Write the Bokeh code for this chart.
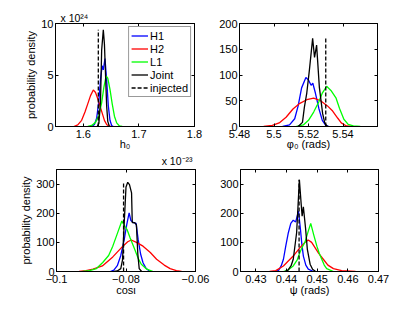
from bokeh.plotting import figure
from bokeh.models import (Range1d, FixedTicker, LinearAxis, Legend, LegendItem, Title,
                          CustomJSTickFormatter, Spacer)
from bokeh.layouts import column, row
from bokeh.embed import file_html
from bokeh.resources import INLINE

FONT = "Liberation Sans"
BLUE, RED, GREEN, BLACK = "#0000ff", "#ff0000", "#00ff00", "#000000"

# ---------------- panel 1: h0 (x in 1e-23, y in 1e24) ----------------
h0_x_H1 = [1.615, 1.620, 1.624, 1.628, 1.631, 1.634, 1.636, 1.639, 1.642, 1.645, 1.648, 1.651, 1.654]
h0_y_H1 = [0.0, 0.2, 0.8, 2.5, 4.6, 5.9, 5.5, 6.6, 4.5, 2.0, 0.6, 0.1, 0.0]
h0_x_H2 = [1.583, 1.590, 1.597, 1.603, 1.608, 1.613, 1.618, 1.622, 1.626, 1.630, 1.634, 1.638, 1.642, 1.646, 1.650]
h0_y_H2 = [0.0, 0.15, 0.6, 1.4, 2.2, 3.0, 3.55, 3.3, 2.7, 2.0, 1.3, 0.6, 0.2, 0.03, 0.0]
h0_x_L1 = [1.608, 1.615, 1.622, 1.628, 1.633, 1.637, 1.641, 1.644, 1.648, 1.652, 1.656, 1.660, 1.665, 1.670]
h0_y_L1 = [0.0, 0.1, 0.4, 1.1, 2.3, 3.8, 4.9, 4.7, 3.6, 2.2, 1.0, 0.35, 0.05, 0.0]
h0_x_J = [1.625, 1.628, 1.631, 1.633, 1.636, 1.638, 1.640, 1.642, 1.644, 1.647]
h0_y_J = [0.0, 0.3, 2.5, 7.4, 9.4, 8.0, 5.0, 2.0, 0.5, 0.0]
h0_inj = 1.627

# ---------------- panel 2: phi0 ----------------
phi_x_H1 = [5.505, 5.509, 5.512, 5.514, 5.516, 5.5185, 5.520, 5.5215, 5.5225, 5.524, 5.526, 5.528, 5.530, 5.532]
phi_y_H1 = [0, 3, 15, 40, 75, 95, 90, 80, 84, 65, 35, 12, 2, 0]
phi_x_H2 = [5.494, 5.499, 5.503, 5.507, 5.511, 5.515, 5.519, 5.523, 5.527, 5.531, 5.534, 5.537, 5.539, 5.542, 5.545]
phi_y_H2 = [0, 2, 7, 18, 34, 45, 52, 55, 50, 40, 30, 16, 7, 1, 0]
phi_x_L1 = [5.513, 5.517, 5.520, 5.523, 5.526, 5.528, 5.5305, 5.533, 5.536, 5.538, 5.5405, 5.543, 5.546, 5.550]
phi_y_L1 = [0, 3, 12, 28, 48, 65, 78, 70, 55, 35, 14, 4, 1, 0]
phi_x_J = [5.514, 5.5165, 5.5176, 5.519, 5.5205, 5.5224, 5.5235, 5.5247, 5.5263, 5.5282, 5.5295, 5.531]
phi_y_J = [0, 8, 37, 65, 109, 171, 134, 158, 76, 25, 6, 0]
phi_inj = 5.530

# ---------------- panel 3: cos(iota) ----------------
ci_x_H1 = [-0.0845, -0.0835, -0.0825, -0.0815, -0.0805, -0.0798, -0.0791, -0.0786, -0.0779, -0.0771, -0.0765, -0.0758, -0.0751, -0.0742, -0.0731]
ci_y_H1 = [0, 5, 20, 55, 110, 160, 201, 175, 168, 165, 110, 60, 30, 10, 0]
ci_x_H2 = [-0.0935, -0.0915, -0.0895, -0.0868, -0.0838, -0.0809, -0.0795, -0.0785, -0.0770, -0.0751, -0.0730, -0.0712, -0.0690, -0.0673, -0.0655, -0.0640]
ci_y_H2 = [0, 3, 8, 19, 50, 87, 102, 108, 100, 87, 65, 42, 22, 10, 3, 0]
ci_x_L1 = [-0.0925, -0.0905, -0.0885, -0.0867, -0.0850, -0.0838, -0.0825, -0.0812, -0.0803, -0.0797, -0.0788, -0.0775, -0.0765, -0.0756, -0.0740, -0.0722]
ci_y_L1 = [0, 3, 10, 31, 55, 87, 130, 173, 155, 144, 115, 76, 45, 25, 8, 0]
ci_x_J = [-0.0835, -0.0825, -0.0815, -0.0810, -0.0805, -0.0800, -0.0795, -0.0790, -0.0784, -0.0782, -0.0775, -0.0770, -0.0766, -0.0762, -0.0755]
ci_y_J = [0, 2, 10, 40, 170, 290, 306, 298, 270, 168, 168, 160, 60, 10, 0]
ci_inj = -0.0807

# ---------------- panel 4: psi ----------------
psi_x_H1 = [0.4365, 0.4375, 0.4383, 0.4390, 0.4398, 0.4406, 0.4414, 0.4422, 0.4430, 0.4439, 0.4445, 0.4450, 0.4455, 0.4463, 0.4471, 0.4488]
psi_y_H1 = [0, 5, 20, 42, 90, 133, 165, 176, 170, 207, 150, 95, 53, 22, 8, 0]
psi_x_H2 = [0.4345, 0.4365, 0.4390, 0.4405, 0.4422, 0.4444, 0.4460, 0.4471, 0.4482, 0.4493, 0.4505, 0.4520, 0.4535, 0.4553, 0.4580, 0.4625]
psi_y_H2 = [0, 3, 19, 35, 53, 82, 100, 108, 100, 82, 62, 42, 22, 10, 3, 0]
psi_x_L1 = [0.4390, 0.4405, 0.4422, 0.4435, 0.4444, 0.4452, 0.4460, 0.4470, 0.4479, 0.4489, 0.4499, 0.4507, 0.4515, 0.4523, 0.4531, 0.4553]
psi_y_L1 = [0, 5, 19, 40, 66, 85, 100, 135, 165, 125, 87, 62, 42, 22, 10, 0]
psi_x_J = [0.4395, 0.4405, 0.4415, 0.4422, 0.4433, 0.4442, 0.4448, 0.4451, 0.4455, 0.4462, 0.4468, 0.4477, 0.4485, 0.4495]
psi_y_J = [0, 5, 20, 42, 133, 315, 230, 190, 222, 150, 76, 25, 8, 0]
psi_inj = 0.4441

# ticks
h0_xticks, h0_yticks = [1.6, 1.7, 1.8], [0, 5, 10]
phi_xticks, phi_yticks = [5.48, 5.5, 5.52, 5.54], [0, 50, 100, 150, 200]
ci_xticks, ci_yticks = [-0.1, -0.08, -0.06], [0, 100, 200, 300]
psi_xticks, psi_yticks = [0.43, 0.44, 0.45, 0.46, 0.47], [0, 100, 200, 300]

# texts
ylabel = "probability density"
xlabels = ["h\u2080", "\u03c6\u2080 (rads)", "cos\u03b9", "\u03c8 (rads)"]
h0_exp_top = "x 10\u00b2\u2074"
h0_exp_bottom = "x 10\u207b\u00b2\u00b3"

FMT = "var s = String(Math.round(tick*1e6)/1e6); return s.replace('-', '\\u2212');"


def style_axis(ax, ticks, show_labels=True):
    ax.ticker = FixedTicker(ticks=ticks)
    ax.major_tick_in = 3
    ax.major_tick_out = 0
    ax.minor_tick_line_color = None
    ax.axis_line_color = "black"
    ax.major_tick_line_color = "black"
    ax.axis_line_width = 1
    ax.major_label_text_font = FONT
    ax.major_label_text_color = "black"
    ax.major_label_text_font_size = "11px"
    ax.axis_label_text_font = FONT
    ax.axis_label_text_font_size = "11px"
    ax.axis_label_text_font_style = "normal"
    ax.axis_label_text_color = "black"
    if show_labels:
        ax.formatter = CustomJSTickFormatter(code=FMT)
        ax.major_label_standoff = 2
    else:
        ax.formatter = CustomJSTickFormatter(code="return '';")
        ax.major_label_standoff = 0


def make_panel(xr, yr, xt, yt, fw, fh, bl, br, bt, bb, xlabel, ylab=None, xl_standoff=0):
    p = figure(frame_width=fw, frame_height=fh, x_range=Range1d(*xr), y_range=Range1d(*yr),
               output_backend="svg", toolbar_location=None,
               min_border_left=bl, min_border_right=br, min_border_top=bt, min_border_bottom=bb)
    p.grid.visible = False
    p.outline_line_color = "black"
    p.outline_line_width = 1
    p.background_fill_color = "white"
    p.border_fill_color = "white"
    style_axis(p.xaxis[0], xt)
    style_axis(p.yaxis[0], yt)
    p.xaxis[0].major_label_standoff = 3
    p.xaxis[0].axis_label = xlabel
    p.xaxis[0].axis_label_standoff = xl_standoff
    if ylab:
        p.yaxis[0].axis_label = ylab
        p.yaxis[0].axis_label_standoff = 1
    top = LinearAxis()
    style_axis(top, xt, False)
    p.add_layout(top, "above")
    right = LinearAxis()
    style_axis(right, yt, False)
    p.add_layout(right, "right")
    return p


def draw(p, series, inj):
    rs = []
    for xs, ys, c in series:
        rs.append(p.line(xs, ys, line_color=c, line_width=1.3))
    jy = series[-1][1]
    rs.append(p.line([inj, inj], [0, max(jy)], line_color="black", line_width=1.3, line_dash="4 2"))
    return rs


p1 = make_panel((1.55, 1.8), (0, 10), h0_xticks, h0_yticks, 139, 103, 32, 22, 23, 0,
                xlabels[0], ylabel, xl_standoff=-3)
p1.xaxis[0].axis_label_text_font_style = "italic"
p1.xaxis[0].axis_label_text_font_size = "12px"
p2 = make_panel((5.48, 5.56), (0, 200), phi_xticks, phi_yticks, 138, 103, 22, 38, 23, 0,
                xlabels[1], xl_standoff=-3)
p3 = make_panel((-0.1, -0.06), (0, 350), ci_xticks, ci_yticks, 139, 102, 37, 22, 3, 0,
                xlabels[2], ylabel, xl_standoff=-2)
p4 = make_panel((0.425, 0.47), (0, 350), psi_xticks, psi_yticks, 138, 102, 22, 38, 3, 0,
                xlabels[3], xl_standoff=-2)

# exponent labels of panel 1
p1.title.text = h0_exp_top
p1.title.align = "left"
p1.title.offset = 5
p1.title.standoff = 0
p1.title.text_font = FONT
p1.title.text_font_size = "10.5px"
p1.title.text_font_style = "normal"
p1.title.text_color = "black"
p1.add_layout(Title(text=h0_exp_bottom, align="right", offset=2, standoff=0, text_font=FONT,
                    text_font_size="10.5px", text_font_style="normal", text_color="black"),
              "below")

r1 = draw(p1, [(h0_x_H1, h0_y_H1, BLUE), (h0_x_H2, h0_y_H2, RED), (h0_x_L1, h0_y_L1, GREEN),
               (h0_x_J, h0_y_J, BLACK)], h0_inj)
draw(p2, [(phi_x_H1, phi_y_H1, BLUE), (phi_x_H2, phi_y_H2, RED), (phi_x_L1, phi_y_L1, GREEN),
          (phi_x_J, phi_y_J, BLACK)], phi_inj)
draw(p3, [(ci_x_H1, ci_y_H1, BLUE), (ci_x_H2, ci_y_H2, RED), (ci_x_L1, ci_y_L1, GREEN),
          (ci_x_J, ci_y_J, BLACK)], ci_inj)
draw(p4, [(psi_x_H1, psi_y_H1, BLUE), (psi_x_H2, psi_y_H2, RED), (psi_x_L1, psi_y_L1, GREEN),
          (psi_x_J, psi_y_J, BLACK)], psi_inj)

legend_labels = ["H1", "H2", "L1", "Joint", "injected"]
leg = Legend(items=[LegendItem(label=l, renderers=[r]) for l, r in zip(legend_labels, r1)],
             location="top_right", margin=3, padding=2, spacing=0,
             glyph_width=17, glyph_height=13, label_height=13, label_standoff=2,
             label_text_font=FONT, label_text_font_size="11px", label_text_color="black",
             border_line_color="#333333", border_line_width=1, background_fill_color="white",
             background_fill_alpha=1)
p1.add_layout(leg, "center")

layout = column(row(Spacer(width=22, height=10), p1, p2),
                row(Spacer(width=17, height=10), p3, p4))
open("out.html", "w").write(file_html(layout, INLINE))
